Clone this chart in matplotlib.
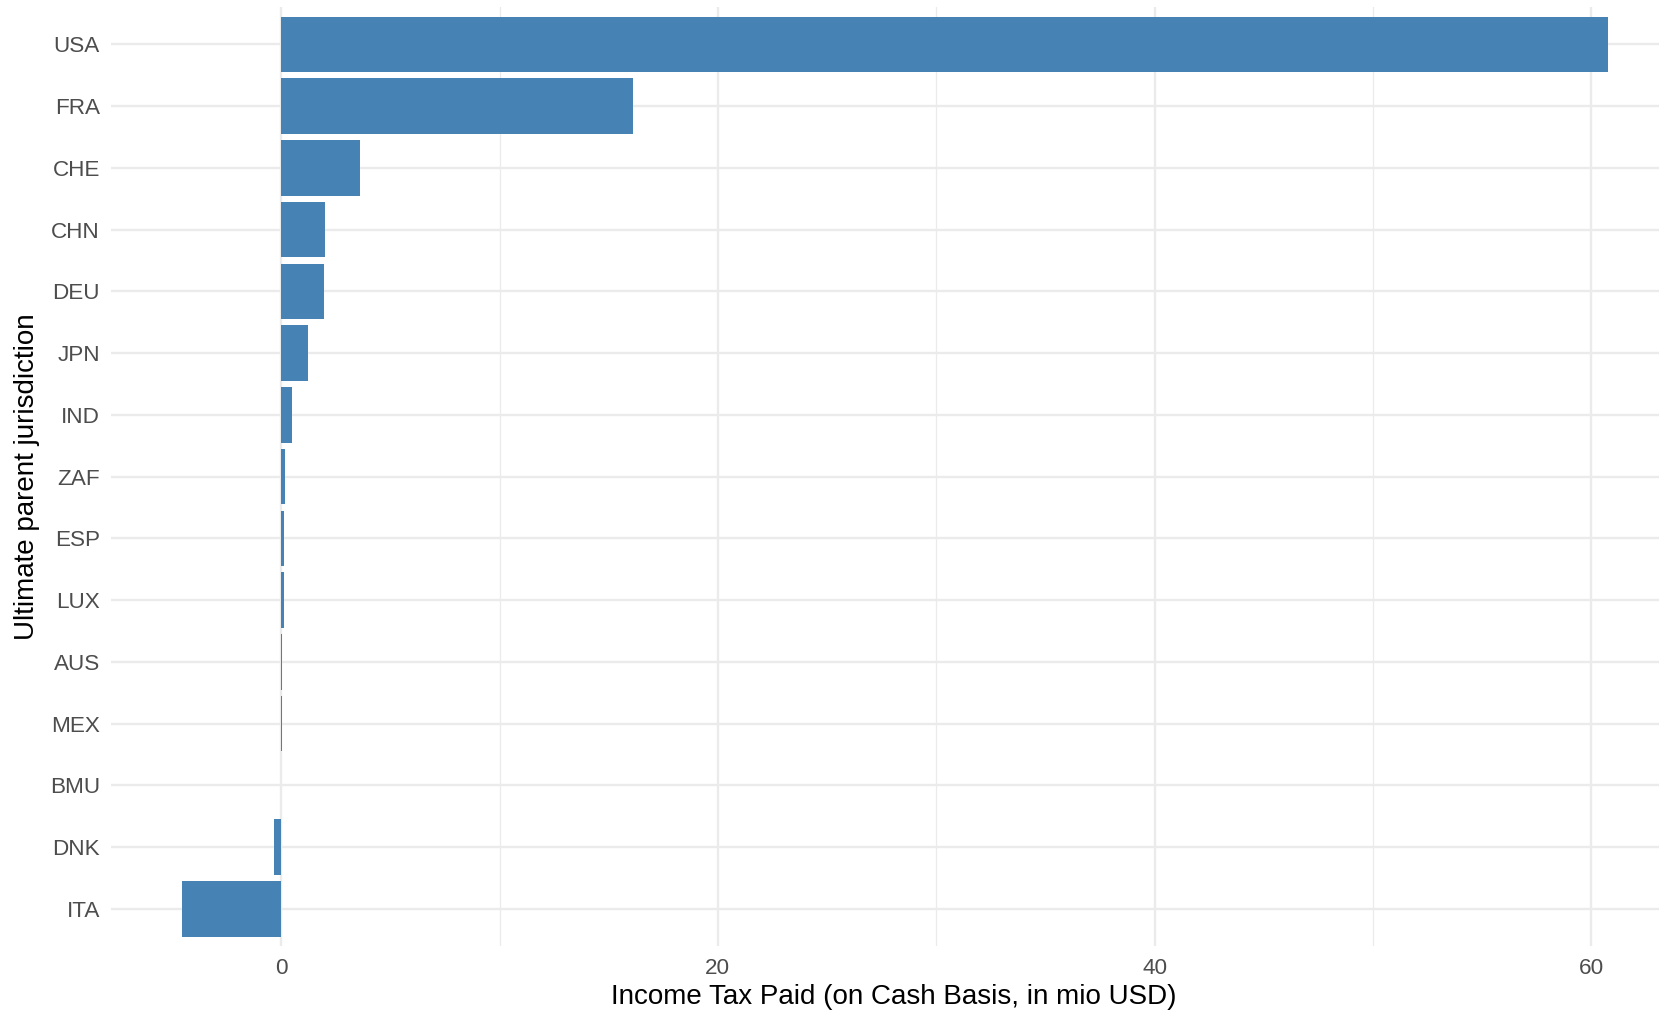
import matplotlib
matplotlib.use("Agg")
import matplotlib.pyplot as plt
from matplotlib.ticker import MultipleLocator

plt.rcParams["font.family"] = ["Liberation Sans", "DejaVu Sans"]

# countries, top to bottom
countries = ["USA", "FRA", "CHE", "CHN", "DEU", "JPN", "IND", "ZAF",
             "ESP", "LUX", "AUS", "MEX", "BMU", "DNK", "ITA"]
# income tax paid (cash basis), mio USD
tax_paid = [60.75, 16.13, 3.63, 2.01, 1.95, 1.22, 0.50, 0.17,
            0.12, 0.12, 0.03, 0.02, 0.0, -0.35, -4.53]

W, H = 1659, 1014
fig = plt.figure(figsize=(W / 100, H / 100), dpi=100)
# panel runs past the right edge, as in the reference (cropped)
left, right, top, bottom = 111, 1679, 7.3, 946
ax = fig.add_axes([left / W, 1 - bottom / H, (right - left) / W, (bottom - top) / H])

n = len(countries)
ypos = list(range(n, 0, -1))
ax.barh(ypos, tax_paid, height=0.9, color="#4682B4", zorder=3)

span = max(tax_paid) - min(tax_paid)
ax.set_xlim(min(tax_paid) - 0.05 * span, max(tax_paid) + 0.05 * span)
ax.set_ylim(0.4, n + 0.6)

ax.set_yticks(ypos)
ax.set_yticklabels(countries)
ax.xaxis.set_major_locator(MultipleLocator(20))
ax.xaxis.set_minor_locator(MultipleLocator(10))

ax.grid(which="major", color="#EBEBEB", lw=1.7, zorder=0)
ax.grid(which="minor", axis="x", color="#EBEBEB", lw=0.9, zorder=0)
ax.set_axisbelow(True)
for s in ax.spines.values():
    s.set_visible(False)

ax.tick_params(which="both", length=0)
ax.tick_params(axis="y", labelsize=16.2, labelcolor="#4D4D4D", pad=8)
ax.tick_params(axis="x", labelsize=16.2, labelcolor="#4D4D4D", pad=9)

ax.set_xlabel("Income Tax Paid (on Cash Basis, in mio USD)", fontsize=20, color="black", va="center")
ax.set_ylabel("Ultimate parent jurisdiction", fontsize=20, color="black", va="center")
ax.xaxis.set_label_coords((894 - left) / (right - left), -(997 - bottom) / (bottom - top))
ax.yaxis.set_label_coords(-(left - 27) / (right - left), 0.5)

fig.savefig("out.png", dpi=100)
